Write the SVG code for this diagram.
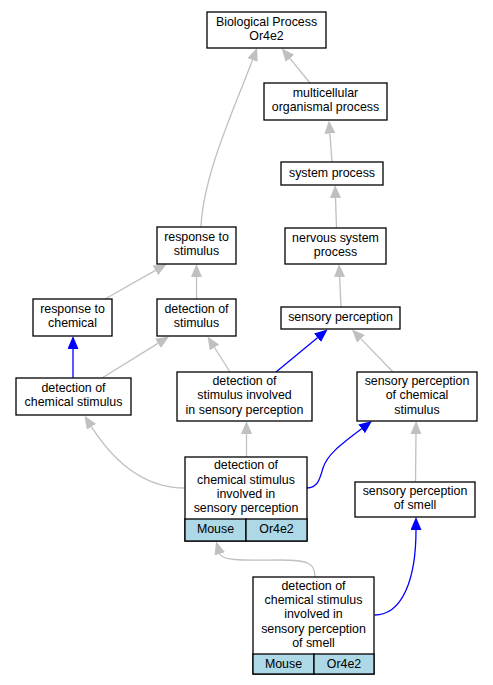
<svg xmlns="http://www.w3.org/2000/svg" width="493" height="685" viewBox="0 0 493 685">
<style>
.n{fill:#fff;stroke:#000;stroke-width:1.3}
.c{fill:#add8e6;stroke:#000;stroke-width:1.3}
text{font-family:"Liberation Sans",Arial,Helvetica,sans-serif;font-size:12.4px;fill:#000;text-anchor:middle}
.g{fill:none;stroke:#c0c0c0;stroke-width:1.3;marker-end:url(#ag)}
.b{fill:none;stroke:#0000ff;stroke-width:1.3;marker-end:url(#ab)}
</style>
<defs>
<marker id="ag" markerWidth="14" markerHeight="11" refX="0" refY="5.5" orient="auto" markerUnits="userSpaceOnUse"><path d="M0,0 L13,5.5 L0,11 z" fill="#c0c0c0"/></marker>
<marker id="ab" markerWidth="14" markerHeight="11" refX="0" refY="5.5" orient="auto" markerUnits="userSpaceOnUse"><path d="M0,0 L13,5.5 L0,11 z" fill="#0000ff"/></marker>
</defs>
<rect width="493" height="685" fill="#fff"/>
<g id="edges">
<path class="g" d="M201,227 C203,175 235,107 252.5,60"/>
<path class="g" d="M310,83 L289.9,58.4"/>
<path class="g" d="M332,162 L329.9,133.5"/>
<path class="g" d="M336.5,228 L335.5,198"/>
<path class="g" d="M341,307 L339.6,277"/>
<path class="g" d="M196.5,299 L196.5,277"/>
<path class="g" d="M105,299 L155.4,270.4"/>
<path class="b" d="M73,378 L73,349"/>
<path class="g" d="M102,378 L158,343.4"/>
<path class="g" d="M230,372 L214.5,347.5"/>
<path class="b" d="M276,372 L317.5,337.8"/>
<path class="g" d="M393,372 L361,338.9"/>
<path class="g" d="M246.5,457 L246.5,434"/>
<path class="g" d="M185,488 C150,488 118,468 91.5,426.8"/>
<path class="b" d="M307,488 C318,488 320,478 323,468 C327,455 340,445 361.6,428.8"/>
<path class="g" d="M415.5,482 L416,434"/>
<path class="g" d="M315,577 C315,563 308,560 280,560 C250,560 222.1,561.6 219.8,553.9"/>
<path class="b" d="M374.5,615 C402,615 416,580 416,530"/>
</g>
<g id="bp"><rect class="n" x="207" y="12" width="119" height="36"/><text x="266.5" y="25.5">Biological Process</text><text x="266.5" y="39.9">Or4e2</text></g>
<g id="multicellular"><rect class="n" x="264" y="83" width="123" height="37"/><text x="325.5" y="97">multicellular</text><text x="325.5" y="111.4">organismal process</text></g>
<g id="system"><rect class="n" x="281" y="162" width="102" height="23"/><text x="332" y="176.7">system process</text></g>
<g id="nervous"><rect class="n" x="285" y="228" width="101" height="36"/><text x="335.5" y="241.5">nervous system</text><text x="335.5" y="255.9">process</text></g>
<g id="sensory"><rect class="n" x="281" y="307" width="119" height="22"/><text x="340.5" y="320.7">sensory perception</text></g>
<g id="resp_stim"><rect class="n" x="157" y="227" width="79" height="37"/><text x="196.5" y="241">response to</text><text x="196.5" y="255.4">stimulus</text></g>
<g id="resp_chem"><rect class="n" x="33" y="299" width="79" height="37"/><text x="72.5" y="313">response to</text><text x="72.5" y="327.4">chemical</text></g>
<g id="det_stim"><rect class="n" x="157" y="299" width="79" height="37"/><text x="196.5" y="313">detection of</text><text x="196.5" y="327.4">stimulus</text></g>
<g id="det_chem"><rect class="n" x="16" y="378" width="115" height="37"/><text x="73.5" y="392">detection of</text><text x="73.5" y="406.4">chemical stimulus</text></g>
<g id="det_stim_sp"><rect class="n" x="177" y="372" width="135" height="49"/><text x="244.5" y="384.9">detection of</text><text x="244.5" y="399.2">stimulus involved</text><text x="244.5" y="413.5">in sensory perception</text></g>
<g id="sp_chem"><rect class="n" x="357" y="372" width="120" height="49"/><text x="417" y="384.9">sensory perception</text><text x="417" y="399.2">of chemical</text><text x="417" y="413.5">stimulus</text></g>
<g id="det_chem_sp"><rect class="n" x="185" y="457" width="122" height="84"/><rect class="c" x="185" y="519" width="61" height="22"/><rect class="c" x="246" y="519" width="61" height="22"/><text x="246" y="469.3">detection of</text><text x="246" y="483.6">chemical stimulus</text><text x="246" y="497.9">involved in</text><text x="246" y="512.2">sensory perception</text><text x="215.5" y="533">Mouse</text><text x="276.5" y="533">Or4e2</text></g>
<g id="sp_smell"><rect class="n" x="355" y="482" width="120" height="35"/><text x="415" y="495">sensory perception</text><text x="415" y="509.4">of smell</text></g>
<g id="det_chem_sp_smell"><rect class="n" x="253" y="577" width="121" height="97"/><rect class="c" x="253" y="654" width="61" height="20"/><rect class="c" x="314" y="654" width="60" height="20"/><text x="313.5" y="589.6">detection of</text><text x="313.5" y="603.9">chemical stimulus</text><text x="313.5" y="618.2">involved in</text><text x="313.5" y="632.5">sensory perception</text><text x="313.5" y="646.8">of smell</text><text x="283.5" y="667.5">Mouse</text><text x="344" y="667.5">Or4e2</text></g>
</svg>
